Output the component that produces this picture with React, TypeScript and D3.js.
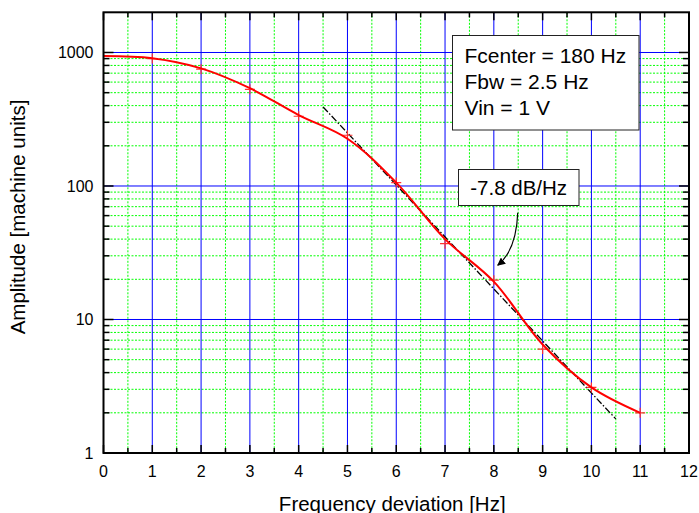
import React from "react";
import * as d3 from "d3";

// ---- data ----
const freqDev = [0, 1, 2, 3, 4, 5, 6, 7, 8, 9, 10, 11];
const measured = [940, 900, 750, 530, 333, 240, 106, 37, 19.7, 6.0, 3.1, 2.0];
const smoothFit = [940, 905, 760, 540, 340, 226, 106, 40, 19.2, 6.5, 3.1, 2.0];
const slopeLineX = [4.5, 10.5];
const slopeLineY = [391, 1.8];
const xTicks = [0, 1, 2, 3, 4, 5, 6, 7, 8, 9, 10, 11, 12];
const yTickLabels = [1, 10, 100, 1000];
const infoLines = ["Fcenter = 180 Hz", "Fbw = 2.5 Hz", "Vin = 1 V"];
const slopeLabel = "-7.8 dB/Hz";

const W = 699;
const H = 513;
const L = 103.5;
const R = 689;
const T = 12.3;
const B = 453;
const FONT = "'Liberation Sans', Arial, sans-serif";

export default function App() {
  const x = d3.scaleLinear().domain([0, 12]).range([L, R]);
  const y = d3.scaleLog().domain([1, 2000]).range([B, T]);

  const halfTicks = d3.range(0, 12.01, 0.5);
  const minorY: number[] = [];
  [1, 10, 100, 1000].forEach((d) => {
    for (let k = 2; k <= 9; k++) {
      const v = d * k;
      if (v < 2000) minorY.push(v);
    }
  });

  const fitLine = d3
    .line<number>()
    .x((_, i) => x(freqDev[i]))
    .y((d) => y(d))
    .curve(d3.curveCatmullRom.alpha(0.5));

  const majorLen = 8;
  const minorLen = 5;

  // arrow from slope label to the curve (data coordinates)
  const aStart = [x(8.49), y(63)];
  const aEnd = [x(8.08), y(25.5)];
  const aCtrl = [x(8.46), y(33)];

  return (
    <svg
      width={W}
      height={H}
      style={{ position: "absolute", left: 0, top: 0, background: "#fff" }}
      fontFamily={FONT}
    >
      <defs>
        <marker
          id="ah"
          viewBox="0 0 10 10"
          refX="9"
          refY="5"
          markerWidth="8"
          markerHeight="8"
          markerUnits="userSpaceOnUse"
          orient="auto"
        >
          <path d="M0,0 L10,5 L0,10 z" fill="#000" />
        </marker>
        <clipPath id="plot">
          <rect x={L} y={T} width={R - L} height={B - T} />
        </clipPath>
      </defs>
      <rect x={0} y={0} width={W} height={H} fill="#fff" />

      {/* minor grid */}
      {halfTicks
        .filter((d) => d % 1 !== 0)
        .map((d) => (
          <line
            key={"gx" + d}
            x1={x(d)}
            x2={x(d)}
            y1={T}
            y2={B}
            stroke="#00ff00"
            strokeWidth={1}
            strokeDasharray="2,1.5"
          />
        ))}
      {minorY.map((d) => (
        <line
          key={"gy" + d}
          x1={L}
          x2={R}
          y1={y(d)}
          y2={y(d)}
          stroke="#00ff00"
          strokeWidth={1}
          strokeDasharray="2,1.5"
        />
      ))}
      {/* major grid */}
      {xTicks
        .filter((d) => d > 0 && d < 12)
        .map((d) => (
          <line key={"bx" + d} x1={x(d)} x2={x(d)} y1={T} y2={B} stroke="#0000ff" strokeWidth={1} />
        ))}
      {[10, 100, 1000].map((d) => (
        <line key={"by" + d} x1={L} x2={R} y1={y(d)} y2={y(d)} stroke="#0000ff" strokeWidth={1} />
      ))}

      {/* ticks */}
      {halfTicks.map((d) => {
        const len = d % 1 === 0 ? majorLen : minorLen;
        return (
          <g key={"tx" + d}>
            <line x1={x(d)} x2={x(d)} y1={B} y2={B - len} stroke="#000" strokeWidth={1.5} />
            <line x1={x(d)} x2={x(d)} y1={T} y2={T + len} stroke="#000" strokeWidth={1.5} />
          </g>
        );
      })}
      {[...yTickLabels, ...minorY].map((d) => {
        const len = yTickLabels.includes(d) ? majorLen + 2 : minorLen + 1;
        return (
          <g key={"ty" + d}>
            <line x1={L} x2={L + len} y1={y(d)} y2={y(d)} stroke="#000" strokeWidth={1.5} />
            <line x1={R} x2={R - len} y1={y(d)} y2={y(d)} stroke="#000" strokeWidth={1.5} />
          </g>
        );
      })}

      {/* data */}
      <g clipPath="url(#plot)">
        <line
          x1={x(slopeLineX[0])}
          y1={y(slopeLineY[0])}
          x2={x(slopeLineX[1])}
          y2={y(slopeLineY[1])}
          stroke="#000"
          strokeWidth={1.3}
          strokeDasharray="7,2,1.5,2"
        />
        {measured.map((d, i) => {
          const cx = x(freqDev[i]);
          const cy = y(d);
          return (
            <path
              key={"m" + i}
              d={`M${cx - 5},${cy}H${cx + 5}M${cx},${cy - 5}V${cy + 5}`}
              stroke="#ff3030"
              strokeWidth={1.2}
              fill="none"
            />
          );
        })}
        <path d={fitLine(smoothFit) || ""} fill="none" stroke="#ff0000" strokeWidth={2} />
      </g>

      {/* frame */}
      <rect x={L} y={T} width={R - L} height={B - T} fill="none" stroke="#000" strokeWidth={2} />

      {/* tick labels */}
      {xTicks.map((d) => (
        <text key={"lx" + d} x={x(d)} y={476.5} fontSize={16} textAnchor="middle" fill="#000">
          {d}
        </text>
      ))}
      {yTickLabels.map((d) => (
        <text
          key={"ly" + d}
          x={93.5}
          y={y(d)}
          dy="0.36em"
          fontSize={16}
          textAnchor="end"
          fill="#000"
        >
          {d}
        </text>
      ))}

      {/* axis titles */}
      <text x={(L + R) / 2 - 4} y={510.5} fontSize={20.5} textAnchor="middle" fill="#000">
        Frequency deviation [Hz]
      </text>
      <text
        transform={`translate(25,217) rotate(-90)`}
        fontSize={20.5}
        textAnchor="middle"
        fill="#000"
      >
        Amplitude [machine units]
      </text>

      {/* info box */}
      <rect x={452.5} y={35.5} width={186.5} height={94.5} fill="#fff" stroke="#222" strokeWidth={1} />
      {infoLines.map((s, i) => (
        <text key={"il" + i} x={464.5} y={63.3 + i * 25.9} fontSize={21} fill="#000">
          {s}
        </text>
      ))}

      {/* slope label */}
      <rect x={458.5} y={169.5} width={120.5} height={36} fill="#fff" stroke="#222" strokeWidth={1} />
      <text x={518.7} y={195} fontSize={20.5} textAnchor="middle" fill="#000">
        {slopeLabel}
      </text>
      <path
        d={`M${aStart[0]},${aStart[1]} Q${aCtrl[0]},${aCtrl[1]} ${aEnd[0]},${aEnd[1]}`}
        fill="none"
        stroke="#000"
        strokeWidth={1.2}
        markerEnd="url(#ah)"
      />
    </svg>
  );
}
